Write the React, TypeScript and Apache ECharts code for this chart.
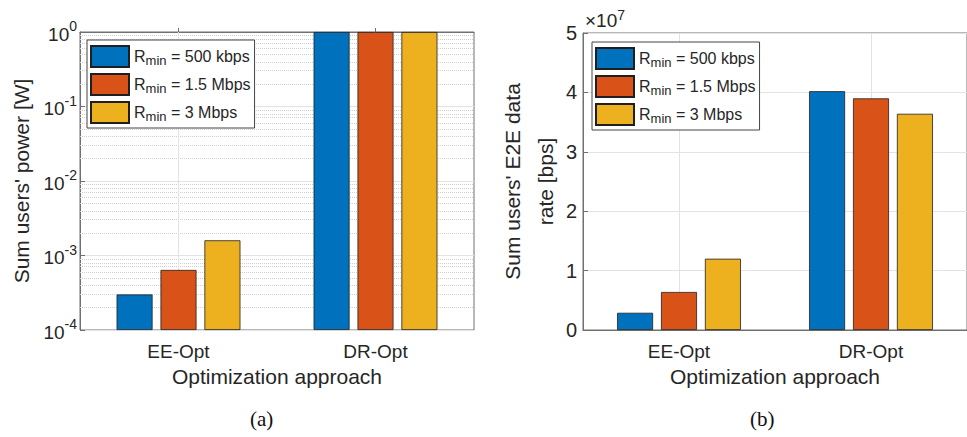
import React, { useEffect, useRef } from 'react';
import * as echarts from 'echarts';

const categories = ['EE-Opt', 'DR-Opt'];
const rminLabels = ['500 kbps', '1.5 Mbps', '3 Mbps'];
const barColors = ['#0072BD', '#D95319', '#EDB120'];
// per Rmin series, values for [EE-Opt, DR-Opt]
const powerW = [
  [3.0e-4, 1],
  [6.4e-4, 1],
  [1.6e-3, 1],
];
const rateBps = [
  [2.9e6, 4.02e7],
  [6.4e6, 3.9e7],
  [1.2e7, 3.64e7],
];
const powerMin = 1e-4;
const powerMax = 1;
const rateMin = 0;
const rateMax = 5e7;
const rateStep = 1e7;
const rateExponent = 7;
const minorDecades = [-4, -3, -2, -1];
const minorMultipliers = [2, 3, 4, 5, 6, 7, 8, 9];

const FONT = '"Liberation Sans", Arial, Helvetica, sans-serif';
const SERIF = '"Liberation Serif", "Times New Roman", serif';
const TEXT = '#262626';
const AXIS = '#707070';
const GRID = '#e3e3e3';
const MINOR = '#cfcfcf';

export default function App() {
  const ref = useRef<HTMLDivElement>(null);
  useEffect(() => {
    if (!ref.current) return;
    const chart = echarts.init(ref.current, null, { renderer: 'svg' });

    const minorExponents: number[] = [];
    minorDecades.forEach((d) =>
      minorMultipliers.forEach((m) => minorExponents.push(Math.log10(m * Math.pow(10, d))))
    );

    const legendRich = {
      r: { fontSize: 16, fontFamily: FONT, color: TEXT, lineHeight: 21, verticalAlign: 'middle' },
      s: { fontSize: 13, fontFamily: FONT, color: TEXT, lineHeight: 8, verticalAlign: 'bottom' },
    };
    const legendBase = {
      orient: 'vertical',
      data: rminLabels,
      icon: 'rect',
      itemWidth: 38,
      itemHeight: 21,
      itemGap: 5,
      padding: [5, 4, 4, 3],
      borderColor: '#444',
      borderWidth: 1,
      backgroundColor: '#ffffff',
      formatter: (name: string) => `{r|R}{s|min}{r| = ${name}}`,
      textStyle: { rich: legendRich },
    };

    const xAxisBase = (gridIndex: number) => ({
      gridIndex,
      type: 'category',
      data: categories,
      axisLine: { lineStyle: { color: AXIS, width: 1 } },
      axisTick: { show: true, inside: true, alignWithLabel: true, length: 4, lineStyle: { color: AXIS } },
      axisLabel: { fontSize: 19, fontFamily: FONT, color: TEXT, margin: 12 },
      splitLine: { show: false },
      name: 'Optimization approach',
      nameLocation: 'middle',
      nameGap: 32,
      nameTextStyle: { fontSize: 21, fontFamily: FONT, color: TEXT },
    });

    const series: any[] = [];
    // minor log gridlines (dotted), drawn on a hidden exponent axis
    series.push({
      type: 'line',
      xAxisIndex: 0,
      yAxisIndex: 2,
      data: [],
      z: 1,
      silent: true,
      markLine: {
        silent: true,
        z: 1,
        symbol: ['none', 'none'],
        label: { show: false },
        lineStyle: { type: 'dotted', color: MINOR, width: 1 },
        data: [
          ...minorExponents.map((v) => ({ yAxis: v })),
          ...categories.map((c) => ({ xAxis: c, lineStyle: { type: 'solid', color: GRID, width: 1 } })),
        ],
      },
    });
    series.push({
      type: 'line',
      xAxisIndex: 1,
      yAxisIndex: 1,
      data: [],
      z: 1,
      silent: true,
      markLine: {
        silent: true,
        z: 1,
        symbol: ['none', 'none'],
        label: { show: false },
        lineStyle: { type: 'solid', color: GRID, width: 1 },
        data: categories.map((c) => ({ xAxis: c })),
      },
    });

    rminLabels.forEach((name, i) => {
      series.push({
        type: 'bar',
        name,
        xAxisIndex: 0,
        yAxisIndex: 0,
        data: powerW[i],
        barWidth: 36,
        barGap: '22%',
        z: 3,
        itemStyle: { color: barColors[i], borderColor: '#1f1f1f', borderWidth: 0.8 },
      });
    });
    rminLabels.forEach((name, i) => {
      series.push({
        type: 'bar',
        name,
        xAxisIndex: 1,
        yAxisIndex: 1,
        data: rateBps[i],
        barWidth: 36,
        barGap: '22%',
        z: 3,
        itemStyle: { color: barColors[i], borderColor: '#1f1f1f', borderWidth: 0.8 },
      });
    });

    const option: any = {
      animation: false,
      backgroundColor: '#ffffff',
      grid: [
        { left: 80, top: 32, width: 394, height: 298, show: true, borderColor: AXIS, borderWidth: 1, backgroundColor: 'transparent' },
        { left: 583, top: 33, width: 394, height: 297, show: true, borderColor: AXIS, borderWidth: 1, backgroundColor: 'transparent' },
      ],
      legend: [
        { ...legendBase, left: 87, top: 40 },
        { ...legendBase, left: 592, top: 42 },
      ],
      xAxis: [xAxisBase(0), xAxisBase(1)],
      yAxis: [
        {
          gridIndex: 0,
          type: 'log',
          logBase: 10,
          min: powerMin,
          max: powerMax,
          startValue: powerMin,
          axisLine: { show: true, lineStyle: { color: AXIS } },
          axisTick: { show: true, inside: true, length: 5, lineStyle: { color: AXIS } },
          axisLabel: {
            margin: 3,
            formatter: (v: number) => `{b|10}{p|${Math.round(Math.log10(v))}}`,
            rich: {
              b: { fontSize: 19, fontFamily: FONT, color: TEXT, lineHeight: 26, verticalAlign: 'middle', padding: [4, 0, 0, 0] },
              p: { fontSize: 14, fontFamily: FONT, color: TEXT, lineHeight: 14, verticalAlign: 'top' },
            },
          },
          splitLine: { show: true, lineStyle: { color: GRID, width: 1 } },
          name: "Sum users' power [W]",
          nameLocation: 'middle',
          nameGap: 48,
          nameTextStyle: { fontSize: 21, fontFamily: FONT, color: TEXT },
        },
        {
          gridIndex: 1,
          type: 'value',
          min: rateMin,
          max: rateMax,
          interval: rateStep,
          axisLine: { show: true, lineStyle: { color: AXIS } },
          axisTick: { show: true, inside: true, length: 5, lineStyle: { color: AXIS } },
          axisLabel: {
            margin: 6,
            fontSize: 20,
            fontFamily: FONT,
            color: TEXT,
            formatter: (v: number) => String(Math.round(v / Math.pow(10, rateExponent))),
          },
          splitLine: { show: true, lineStyle: { color: GRID, width: 1 } },
          name: "Sum users' E2E data\nrate [bps]",
          nameLocation: 'middle',
          nameGap: 15,
          nameTextStyle: { fontSize: 21, fontFamily: FONT, color: TEXT, lineHeight: 33 },
        },
        {
          // hidden exponent axis used only to place the dotted minor log gridlines
          gridIndex: 0,
          type: 'value',
          min: Math.log10(powerMin),
          max: Math.log10(powerMax),
          show: false,
          splitLine: { show: false },
        },
      ],
      graphic: [
        {
          type: 'text',
          left: 585,
          top: 8,
          style: {
            text: `{a|×10}{p|${rateExponent}}`,
            rich: {
              a: { fontSize: 19, fontFamily: FONT, fill: TEXT, lineHeight: 24, verticalAlign: 'middle' },
              p: { fontSize: 14, fontFamily: FONT, fill: TEXT, lineHeight: 12, verticalAlign: 'top' },
            },
          },
        },
        {
          type: 'text',
          left: 250,
          top: 408,
          style: { text: '(a)', fontSize: 21, fontFamily: SERIF, fill: '#111' },
        },
        {
          type: 'text',
          left: 750,
          top: 408,
          style: { text: '(b)', fontSize: 21, fontFamily: SERIF, fill: '#111' },
        },
      ],
      series,
    };
    chart.setOption(option);
    return () => chart.dispose();
  }, []);

  return (
    <div
      ref={ref}
      style={{ position: 'fixed', left: 0, top: 0, width: 967, height: 437, background: '#fff' }}
    />
  );
}
